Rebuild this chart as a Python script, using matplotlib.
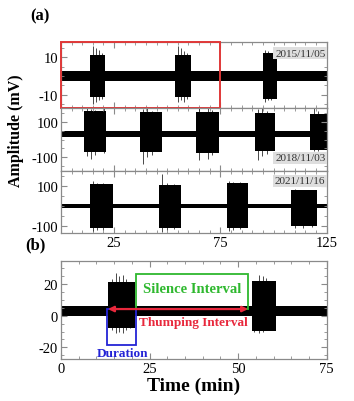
import matplotlib
matplotlib.use("Agg")
import matplotlib.pyplot as plt
from matplotlib.patches import Rectangle
from matplotlib.ticker import MultipleLocator, FixedLocator

plt.rcParams['font.family'] = ['Liberation Serif', 'DejaVu Serif']
plt.rcParams['axes.unicode_minus'] = False

# ---- data (time in min, amplitude in mV) ----
# 2015/11/05
on_2015 = [13.6, 53.6, 95.0]
off_2015 = [20.7, 61.1, 101.4]
hi_2015 = [11, 11, 12]
lo_2015 = [-11, -11, -12]
spk_t_2015 = [15.0, 16.5, 18.0, 19.5, 55.0, 56.5, 58.0, 59.5, 96.0, 97.5, 99.0]
spk_hi_2015 = [16, 15, 14, 12, 16, 15, 13, 12, 14, 13, 12]
spk_lo_2015 = [-15, -14, -13, -12, -14, -13, -14, -12, -14, -13, -13]
base_2015, noise_2015 = 0, 2.5

# 2018/11/03
on_2018 = [11.0, 37.1, 63.7, 91.5, 117.0]
off_2018 = [21.2, 47.6, 74.2, 100.7, 125.0]
hi_2018 = [128, 125, 125, 120, 110]
lo_2018 = [-105, -105, -110, -100, -90]
spk_t_2018 = [12.5, 14.0, 16.0, 20.3, 38.7, 40.5, 43.0, 65.0, 69.0, 71.0, 92.6, 94.5, 97.0, 119.0, 121.0]
spk_hi_2018 = [150, 140, 135, 180, 140, 145, 130, 150, 150, 135, 140, 145, 130, 165, 130]
spk_lo_2018 = [-125, -140, -120, -110, -170, -130, -120, -150, -140, -120, -148, -125, -115, -100, -95]
base_2018, noise_2018 = 33, 15

# 2021/11/16
on_2021 = [13.6, 46.0, 77.9, 108.4]
off_2021 = [24.6, 56.7, 88.0, 120.2]
hi_2021 = [110, 105, 118, 80]
lo_2021 = [-110, -110, -110, -100]
spk_t_2021 = [15.0, 17.0, 20.0, 47.6, 50.0, 53.0, 79.0, 81.0, 84.0, 110.0, 114.0, 118.0]
spk_hi_2021 = [125, 118, 115, 163, 118, 112, 128, 122, 120, 85, 82, 80]
spk_lo_2021 = [-125, -120, -118, -128, -120, -115, -122, -118, -116, -110, -108, -104]
base_2021, noise_2021 = 0, 10

# panel (b): zoom of 2015/11/05
on_b = [13.3, 53.8]
off_b = [20.9, 60.8]
hi_b = [18, 19]
lo_b = [-10.5, -12.5]
spk_t_b = [14.5, 15.5, 16.5, 17.5, 18.5, 19.5, 54.5, 56.0, 57.0, 58.0, 59.5]
spk_hi_b = [20, 24, 22, 23, 20, 18, 19, 23, 22, 21, 18]
spk_lo_b = [-12, -14, -13, -14, -12, -11, -13, -14, -13, -12, -11]
base_b, noise_b = 3, 3

thump = (13.3, 52.8)      # thumping interval
silence = (21.1, 52.8)    # silence interval
duration = (12.9, 21.3)   # duration


def trace(ax, xmax, base, noise, on, off, hi, lo, st, sh, sl):
    ax.fill_between([0, xmax], base - noise, base + noise, color='black', lw=0)
    for a, b, h, l in zip(on, off, hi, lo):
        ax.fill_between([a, b], base + l, base + h, color='black', lw=0)
    ax.vlines(st, [base + v for v in sl], [base + v for v in sh], color='black', lw=0.5)


def style(ax, xmin, xmax):
    for s in ax.spines.values():
        s.set_color('#8a8a8a')
        s.set_linewidth(0.9)
    ax.tick_params(which='both', direction='in', top=True, right=True,
                   color='#8a8a8a', labelsize=10.5, pad=2)
    ax.tick_params(which='major', length=4)
    ax.tick_params(which='minor', length=2)
    ax.set_xlim(xmin, xmax)


def date_label(ax, txt, y):
    ax.text(0.995, y, txt, transform=ax.transAxes, ha='right', va='center',
            fontsize=8, color='#333333',
            bbox=dict(facecolor='#dedede', edgecolor='none', pad=1.2))


fig = plt.figure(figsize=(3.54, 4.02), dpi=100)
L, W = 0.172, 0.751
ax1 = fig.add_axes([L, 0.729, W, 0.164])
ax2 = fig.add_axes([L, 0.572, W, 0.157])
ax3 = fig.add_axes([L, 0.418, W, 0.154])
axb = fig.add_axes([L, 0.104, W, 0.244])

trace(ax1, 125, base_2015, noise_2015, on_2015, off_2015, hi_2015, lo_2015,
      spk_t_2015, spk_hi_2015, spk_lo_2015)
trace(ax2, 125, base_2018, noise_2018, on_2018, off_2018, hi_2018, lo_2018,
      spk_t_2018, spk_hi_2018, spk_lo_2018)
trace(ax3, 125, base_2021, noise_2021, on_2021, off_2021, hi_2021, lo_2021,
      spk_t_2021, spk_hi_2021, spk_lo_2021)
trace(axb, 75, base_b, noise_b, on_b, off_b, hi_b, lo_b,
      spk_t_b, spk_hi_b, spk_lo_b)

for ax in (ax1, ax2, ax3):
    style(ax, 0, 125)
    ax.xaxis.set_major_locator(FixedLocator([25, 75, 125]))
    ax.xaxis.set_minor_locator(MultipleLocator(5))
for ax in (ax1, ax2):
    ax.set_xticklabels([])

ax1.set_ylim(-17, 18)
ax1.yaxis.set_major_locator(FixedLocator([-10, 10]))
ax1.yaxis.set_minor_locator(MultipleLocator(5))
ax2.set_ylim(-178, 180)
ax2.yaxis.set_major_locator(FixedLocator([-100, 100]))
ax2.yaxis.set_minor_locator(MultipleLocator(50))
ax3.set_ylim(-134, 176)
ax3.yaxis.set_major_locator(FixedLocator([-100, 100]))
ax3.yaxis.set_minor_locator(MultipleLocator(50))

date_label(ax1, '2015/11/05', 0.83)
date_label(ax2, '2018/11/03', 0.21)
date_label(ax3, '2021/11/16', 0.84)

# red frame marking the part shown in (b)
ax1.add_patch(Rectangle((0, -17), 75, 35, fill=False, edgecolor='#e03838',
                        lw=1.4, clip_on=False, zorder=5))

fig.text(0.045, 0.675, 'Amplitude (mV)', rotation=90, ha='center', va='center',
         fontsize=11.5, fontweight='bold')
fig.text(0.113, 0.958, '(a)', fontsize=12, fontweight='bold', ha='center', va='center')
fig.text(0.1, 0.39, '(b)', fontsize=12, fontweight='bold', ha='center', va='center')

style(axb, 0, 75)
axb.set_ylim(-27.5, 34.5)
axb.xaxis.set_major_locator(MultipleLocator(25))
axb.xaxis.set_minor_locator(MultipleLocator(5))
axb.yaxis.set_major_locator(FixedLocator([-20, 0, 20]))
axb.yaxis.set_minor_locator(MultipleLocator(5))
axb.set_xlabel('Time (min)', fontsize=14, fontweight='bold', labelpad=1)

y0 = 4.2
axb.add_patch(Rectangle((silence[0], y0), silence[1] - silence[0], 26.4 - y0,
                        fill=False, edgecolor='#2eb82e', lw=1.3, zorder=4))
axb.add_patch(Rectangle((duration[0], -18.3), duration[1] - duration[0], y0 + 18.3,
                        fill=False, edgecolor='#2424d6', lw=1.3, zorder=4))
axb.annotate('', xy=(thump[0], y0), xytext=(thump[1], y0),
             arrowprops=dict(arrowstyle='<|-|>', color='#e8283c', lw=1.6,
                             mutation_scale=8, shrinkA=0, shrinkB=0), zorder=6)
axb.text(37.1, 17, 'Silence Interval', color='#2eb82e', fontsize=10.5,
         ha='center', va='center', fontweight='bold')
axb.text(37.4, -4.2, 'Thumping Interval', color='#e8283c', fontsize=9.5,
         ha='center', va='center', fontweight='bold')
axb.text(17.4, -23.8, 'Duration', color='#2424d6', fontsize=9.5,
         ha='center', va='center', fontweight='bold')

fig.savefig('out.png', dpi=100)
